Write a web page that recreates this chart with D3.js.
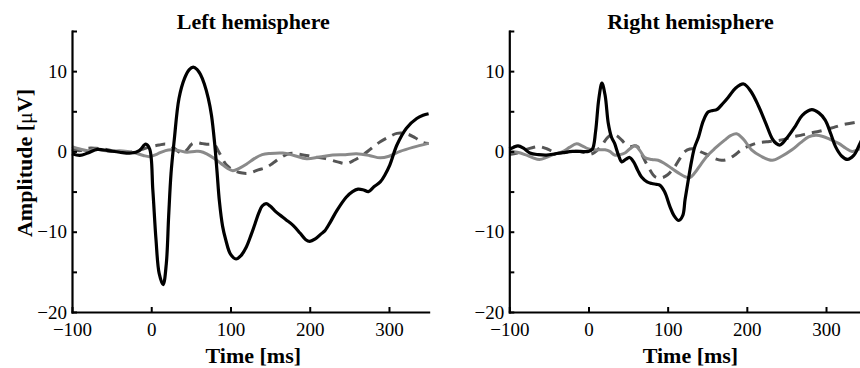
<!DOCTYPE html>
<html>
<head>
<meta charset="utf-8">
<script src="https://cdn.jsdelivr.net/npm/d3@7"></script>
<style>
  body { margin: 0; background: #fff; }
  svg text { font-family: "Liberation Serif", "Times New Roman", Times, serif !important; fill: #000; }
</style>
</head>
<body>
<svg id="chart" width="860" height="368"></svg>
<script>
// Event-related potentials, time in ms vs amplitude in µV
const panelTitles = ["Left hemisphere", "Right hemisphere"];
const xTicks = [-100, 0, 100, 200, 300];
const yTicks = [-20, -15, -10, -5, 0, 5, 10, 15];
const yLabelledTicks = [-20, -10, 0, 10];
const xDomain = [-100, 350];
const yDomain = [-20, 15];

// [time ms, amplitude µV]
const leftBlack = [[-100,-0.3],[-90,-0.5],[-80,-0.2],[-68,0.25],[-55,0.1],[-40,-0.1],[-25,-0.2],[-15,0.1],[-7,0.9],[-2,0.3],[2,-4.8],[6,-11],[10,-15.2],[15,-16.6],[19,-14],[22,-8],[25,-2.7],[29,1.4],[35,6.6],[42,9.1],[48,10.2],[53,10.5],[58,10.2],[62,9.6],[67,8.4],[72,6.6],[76,4.5],[80,1],[83,-2.5],[86,-6.2],[90,-9.3],[94,-11],[100,-12.8],[107,-13.4],[113,-13],[120,-11.9],[126,-10.4],[131,-9.0],[136,-7.6],[140,-6.8],[145,-6.5],[150,-6.8],[156,-7.4],[162,-7.9],[170,-8.5],[179,-9.2],[188,-10.2],[195,-11],[200,-11.2],[207,-10.9],[214,-10.3],[219,-9.9],[226,-8.8],[234,-7.4],[246,-5.7],[254,-5.0],[261,-4.7],[268,-4.8],[274,-5.0],[281,-4.4],[289,-3.8],[295,-2.9],[301,-1.7],[310,0.8],[322,2.9],[335,4.1],[343,4.5],[350,4.7]];
const leftGray = [[-100,0.6],[-90,0.3],[-80,0.1],[-70,0.3],[-60,0.1],[-50,0.0],[-40,0.1],[-30,0.0],[-20,-0.2],[-10,-0.5],[-2,-0.65],[8,-0.3],[18,0.1],[25,0.2],[35,0.1],[45,-0.1],[55,0.0],[62,0],[70,-0.3],[80,-0.9],[88,-1.5],[96,-2.1],[103,-2.4],[111,-2.1],[120,-1.6],[130,-0.9],[140,-0.4],[150,-0.25],[166,-0.2],[180,-0.5],[196,-0.9],[212,-0.7],[229,-0.45],[245,-0.4],[259,-0.3],[275,-0.5],[289,-0.8],[300,-0.6],[314,0],[330,0.5],[350,1.0]];
const leftDashed = [[-100,0.3],[-90,0.1],[-80,0.4],[-70,0.4],[-60,0.3],[-50,0.1],[-40,0.0],[-30,-0.1],[-20,0.0],[-10,0.3],[0,0.6],[10,0.8],[19,0.9],[28,0.5],[34,0],[39,-0.25],[45,0.2],[51,0.9],[57,1.1],[63,1.0],[70,0.9],[76,0.9],[80,0.8],[86,-0.2],[95,-1.7],[105,-2.4],[115,-2.7],[124,-2.7],[135,-2.3],[145,-2.0],[153,-1.5],[163,-0.8],[175,-0.25],[190,-0.4],[204,-0.65],[220,-0.9],[235,-1.3],[246,-1.5],[256,-1.1],[267,-0.45],[278,0.4],[289,1.2],[300,1.8],[310,2.25],[322,2.2],[333,1.7],[343,1.1],[350,1.0]];

const rightBlack = [[-100,0.3],[-95,0.5],[-89,0.7],[-82,0.4],[-74,-0.2],[-63,-0.4],[-53,-0.45],[-42,-0.3],[-32,-0.15],[-20,0],[-10,0],[0,0],[5,0.3],[9,2.5],[13,6.5],[17,8.5],[21,7],[25,3.5],[29,1.8],[33,1.0],[38,-0.5],[42,-1.3],[47,-1.0],[52,-0.75],[57,-1.3],[62,-2.3],[67,-3.2],[74,-3.8],[80,-4.0],[86,-4.1],[90,-4.2],[96,-5.0],[103,-6.9],[108,-8.0],[114,-8.6],[119,-8.0],[122,-6],[126,-3.6],[130,-1.3],[134,0.5],[139,1.8],[145,3.8],[151,4.9],[157,5.1],[162,5.2],[170,6.0],[177,6.8],[186,7.9],[196,8.4],[205,7.5],[215,5.6],[224,3.5],[232,1.6],[237,1.0],[242,0.8],[250,1.6],[261,3.1],[270,4.5],[282,5.2],[291,4.8],[299,3.9],[306,2.2],[312,0.6],[320,-0.6],[327,-1.0],[335,-0.5],[342,0.8],[350,2.5]];
const rightGray = [[-100,0],[-90,-0.1],[-80,-0.4],[-70,-0.8],[-62,-1.0],[-52,-0.7],[-42,-0.3],[-32,0],[-24,0.5],[-15,0.95],[-8,0.7],[-1,0.35],[8,0.2],[15,0.2],[21,0.2],[27,0],[33,-0.45],[40,-0.4],[46,-0.2],[52,0.3],[59,0.7],[65,0.1],[71,-0.75],[80,-1.0],[88,-1.1],[96,-1.5],[105,-2.1],[114,-2.7],[122,-3.15],[128,-3.25],[134,-2.7],[142,-1.6],[151,-0.45],[160,0.4],[172,1.4],[180,2.0],[187,2.2],[195,1.6],[206,0.2],[218,-0.6],[232,-1.1],[244,-0.6],[257,0.2],[268,1.1],[278,1.8],[287,2.0],[295,1.9],[305,1.5],[316,1.0],[325,0.4],[333,0],[340,0.2],[350,0.9]];
const rightDashed = [[-100,-0.4],[-90,-0.2],[-80,0.2],[-70,0.5],[-62,0.6],[-52,0.3],[-40,-0.2],[-30,-0.1],[-20,0],[-11,0],[-3,-0.2],[2,-0.35],[8,-0.1],[17,0.8],[23,1.6],[29,2.1],[35,2.0],[42,1.4],[48,0.8],[54,0.6],[58,0.7],[62,0.6],[67,-0.3],[71,-1.1],[77,-2.2],[84,-3.15],[92,-3.3],[100,-2.9],[109,-1.9],[116,-0.8],[122,0],[128,0.3],[135,0.3],[143,-0.1],[151,-0.45],[160,-0.9],[168,-1.1],[175,-1.0],[184,-0.5],[193,0.2],[203,0.7],[215,1.1],[225,1.2],[236,1.3],[247,1.5],[257,1.8],[268,2.0],[278,2.25],[289,2.45],[299,2.7],[310,3.0],[320,3.3],[331,3.5],[342,3.7],[350,3.8]];

const panels = [
  { title: panelTitles[0], left: 72, right: 428.6, series: [leftDashed, leftGray, leftBlack] },
  { title: panelTitles[1], left: 509.3, right: 865.6, series: [rightDashed, rightGray, rightBlack] }
];
const styles = [
  { color: "#555555", width: 3, dash: "10,7" },
  { color: "#8a8a8a", width: 3, dash: null },
  { color: "#000000", width: 3.2, dash: null }
];

const serif = "'Liberation Serif', 'Times New Roman', Times, serif";
const plotTop = 31, plotBottom = 312;
const svg = d3.select("#chart");
const y = d3.scaleLinear().domain(yDomain).range([plotBottom, plotTop]);
const fmt = d3.format("d");

panels.forEach((p, i) => {
  const x = d3.scaleLinear().domain(xDomain).range([p.left, p.right]);
  const g = svg.append("g");

  const line = d3.line()
    .x(d => x(d[0]))
    .y(d => y(d[1]))
    .curve(d3.curveCatmullRom.alpha(0.5));

  p.series.forEach((s, k) => {
    const st = styles[k];
    g.append("path")
      .datum(s)
      .attr("d", line)
      .attr("fill", "none")
      .attr("stroke", st.color)
      .attr("stroke-width", st.width)
      .attr("stroke-linejoin", "round")
      .attr("stroke-dasharray", st.dash);
  });

  const xAxis = g.append("g")
    .attr("transform", `translate(0,${plotBottom})`)
    .call(d3.axisBottom(x).tickValues(xTicks).tickSizeInner(-5).tickSizeOuter(0).tickPadding(11).tickFormat(fmt));
  const yAxis = g.append("g")
    .attr("transform", `translate(${p.left},0)`)
    .call(d3.axisLeft(y).tickValues(yTicks).tickSizeInner(-5).tickSizeOuter(0).tickPadding(5)
      .tickFormat(d => yLabelledTicks.includes(d) ? fmt(d) : ""));

  [xAxis, yAxis].forEach(a => {
    a.attr("font-family", serif).attr("font-size", 19);
    a.select(".domain").attr("stroke", "#000").attr("stroke-width", 2.2).attr("stroke-linecap", "square");
    a.selectAll(".tick line").attr("stroke", "#000").attr("stroke-width", 2);
    a.selectAll(".tick text").style("font-family", serif).style("font-size", "19px").attr("fill", "#000");
  });

  const mid = (p.left + p.right) / 2 + 3;
  g.append("text")
    .attr("x", mid).attr("y", 28.5)
    .attr("text-anchor", "middle")
    .style("font-family", serif)
    .attr("font-size", 22).attr("font-weight", "bold")
    .text(p.title);
  g.append("text")
    .attr("x", mid).attr("y", 363)
    .attr("text-anchor", "middle")
    .style("font-family", serif)
    .attr("font-size", 22).attr("font-weight", "bold")
    .text("Time [ms]");

  if (i === 0) {
    const yl = g.append("text")
      .attr("transform", "translate(32,163) rotate(-90)")
      .attr("text-anchor", "middle")
      .style("font-family", serif)
      .attr("font-size", 22).attr("font-weight", "bold");
    yl.append("tspan").text("Amplitude [");
    yl.append("tspan").attr("font-weight", "normal").text("\u03bc");
    yl.append("tspan").text("V]");
  }
});
</script>
</body>
</html>
